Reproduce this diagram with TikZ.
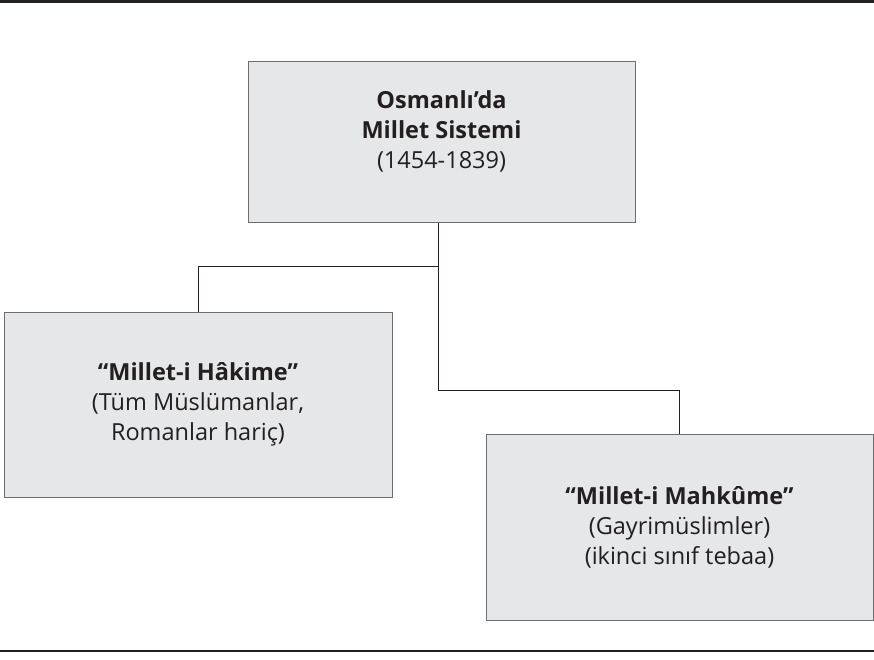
\documentclass[tikz,border=0pt]{standalone}
\usepackage{fontspec}
\setmainfont{Open Sans}
\definecolor{boxfill}{HTML}{E6E7E8}
\definecolor{boxline}{HTML}{6D6E71}
\definecolor{ink}{HTML}{231F20}
\begin{document}
\begin{tikzpicture}[x=1pt,y=-1pt,
  mbox/.style={draw=boxline,fill=boxfill,line width=1pt,inner sep=0pt,
    align=center,text=ink,font=\fontsize{23.5}{30}\selectfont},
  link/.style={draw=ink,line width=0.9pt},
  rule/.style={draw=ink,line width=2.6pt}]
\useasboundingbox (0,0) rectangle (874,660);
\node[mbox,minimum width=387pt,minimum height=160pt,text depth=24pt] (m0) at (441.5,142) {\textbf{Osmanlı’da}\\\textbf{Millet Sistemi}\\(1454-1839)};
\node[mbox,minimum width=388pt,minimum height=185pt] (m1) at (198,404.5) {\textbf{“Millet-i Hâkime”}\\(Tüm Müslümanlar,\\Romanlar hariç)};
\node[mbox,minimum width=387pt,minimum height=186pt] (m2) at (679.5,527) {\textbf{“Millet-i Mahkûme”}\\(Gayrimüslimler)\\(ikinci sınıf tebaa)};
\coordinate (r1) at (0,1.5);
\coordinate (r2) at (874,1.5);
\coordinate (r3) at (0,651);
\coordinate (r4) at (874,651);
\draw[link] ([xshift=-3.5pt]m0.south) -- ++(0,44) -| (m1.north);
\draw[link] ([xshift=-3.5pt]m0.south) -- ++(0,168) -| (m2.north);
\draw[rule] (r1) -- (r2);
\draw[rule] (r3) -- (r4);
\end{tikzpicture}
\end{document}
